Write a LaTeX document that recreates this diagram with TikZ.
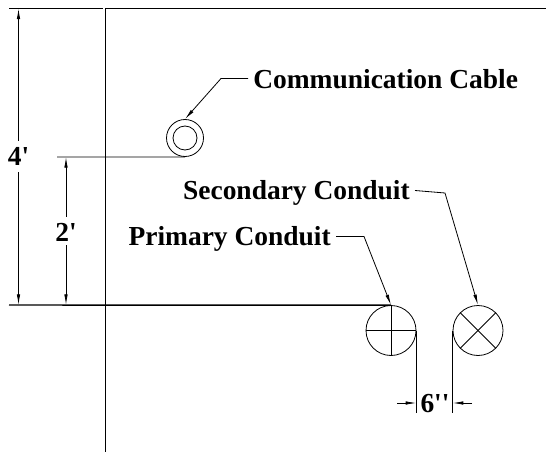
\documentclass[tikz,border=0pt]{standalone}
\usepackage{fontspec}
\setmainfont{Liberation Serif}
\usetikzlibrary{arrows.meta}
\usetikzlibrary{calc}
\usetikzlibrary{positioning}

\tikzset{
    thinline/.style={line width=0.6pt},
    thickline/.style={line width=1.1pt},
    tip/.style={-{Latex[length=8pt,width=2.6pt]}},
    pipe/.style={draw, circle, inner sep=0pt, thinline},
    tag/.style={font=\fontsize{20.6pt}{23pt}\bfseries, inner sep=0pt, anchor=base},
}

\begin{document}
\begin{tikzpicture}[x=0.75pt, y=-0.75pt]
    \useasboundingbox (0,0) rectangle (546,453);
    \coordinate (topleft) at (9,8.5);
    \coordinate (topcorner) at (105.5,8.5);
    \coordinate (topright) at (546,8.5);
    \coordinate (axisbottom) at (105.5,452);
    \coordinate (groundleft) at (9,305);
    \coordinate (fourtop) at (18.5,8.5);
    \coordinate (fourbottom) at (18.5,305);
    \coordinate (twotop) at (66,157);
    \coordinate (twobottom) at (66,305);
    \coordinate (cableleft) at (57,157);
    \coordinate (cablebend) at (221,78.5);
    \coordinate (primarybend) at (364,236.5);
    \coordinate (secondarystart) at (415,190.5);
    \coordinate (secondarybend) at (445,193);
    \coordinate (gapleft) at (397,403);
    \coordinate (gapright) at (472,403);

    \node[pipe, minimum size=27.75pt] (cable) at (185,138) {};
    \node[pipe, minimum size=18pt] (cablecore) at (185,138) {};
    \node[pipe, minimum size=37.5pt] (primary) at (391,330.5) {};
    \node[pipe, minimum size=37.5pt] (secondary) at (478,330.5) {};

    \node[tag, anchor=base west] (cablelabel) at (253,88.5) {Communication Cable};
    \node[tag, anchor=base east] (secondarylabel) at (410,199.5) {Secondary Conduit};
    \node[tag, anchor=base east] (primarylabel) at (331,245.5) {Primary Conduit};
    \node[tag] (four) at (18.5,165) {4\textquotesingle};
    \node[tag] (two) at (66,241) {2\textquotesingle};
    \node[tag] (six) at (435,412.5) {6\textquotesingle\textquotesingle};

    % frame
    \draw[thickline] (topcorner) -- (topright);
    \draw[thinline] (topleft) -- ($(topcorner)+(-3,0)$);
    \draw[thinline] (topcorner) -- (axisbottom);
    \draw[thickline] (groundleft) -- (primary.north);
    \draw[thinline] (cableleft) -- (cable.south);

    % dimensions
    \draw[thinline, tip] (four.north) ++(0,-6) -- (fourtop);
    \draw[thinline, tip] (four.south) ++(0,7) -- (fourbottom);
    \draw[thinline, tip] (two.north) ++(0,-6) -- (twotop);
    \draw[thinline, tip] (two.south) ++(0,4) -- (twobottom);

    % conduits
    \draw[thinline] (primary.north) -- (primary.south);
    \draw[thinline] (primary.west) -- (primary.east);
    \draw[thinline] (secondary.north west) -- (secondary.south east);
    \draw[thinline] (secondary.south west) -- (secondary.north east);
    \draw[thinline] (primary.east) -- (primary.east |- six.south);
    \draw[thinline] (secondary.west) -- (secondary.west |- six.south);
    \draw[thinline, tip] (gapleft) -- (primary.east |- gapleft);
    \draw[thinline, tip] (gapright) -- (secondary.west |- gapright);

    % leaders
    \draw[thinline, tip] (cablelabel.west |- cablebend) ++(-5,0) -- (cablebend) -- (cable.north);
    \draw[thinline, tip] (secondarystart) -- (secondarybend) -- (secondary.north);
    \draw[thinline, tip] (primarylabel.east |- primarybend) ++(5,0) -- (primarybend) -- (primary.north);
\end{tikzpicture}
\end{document}
